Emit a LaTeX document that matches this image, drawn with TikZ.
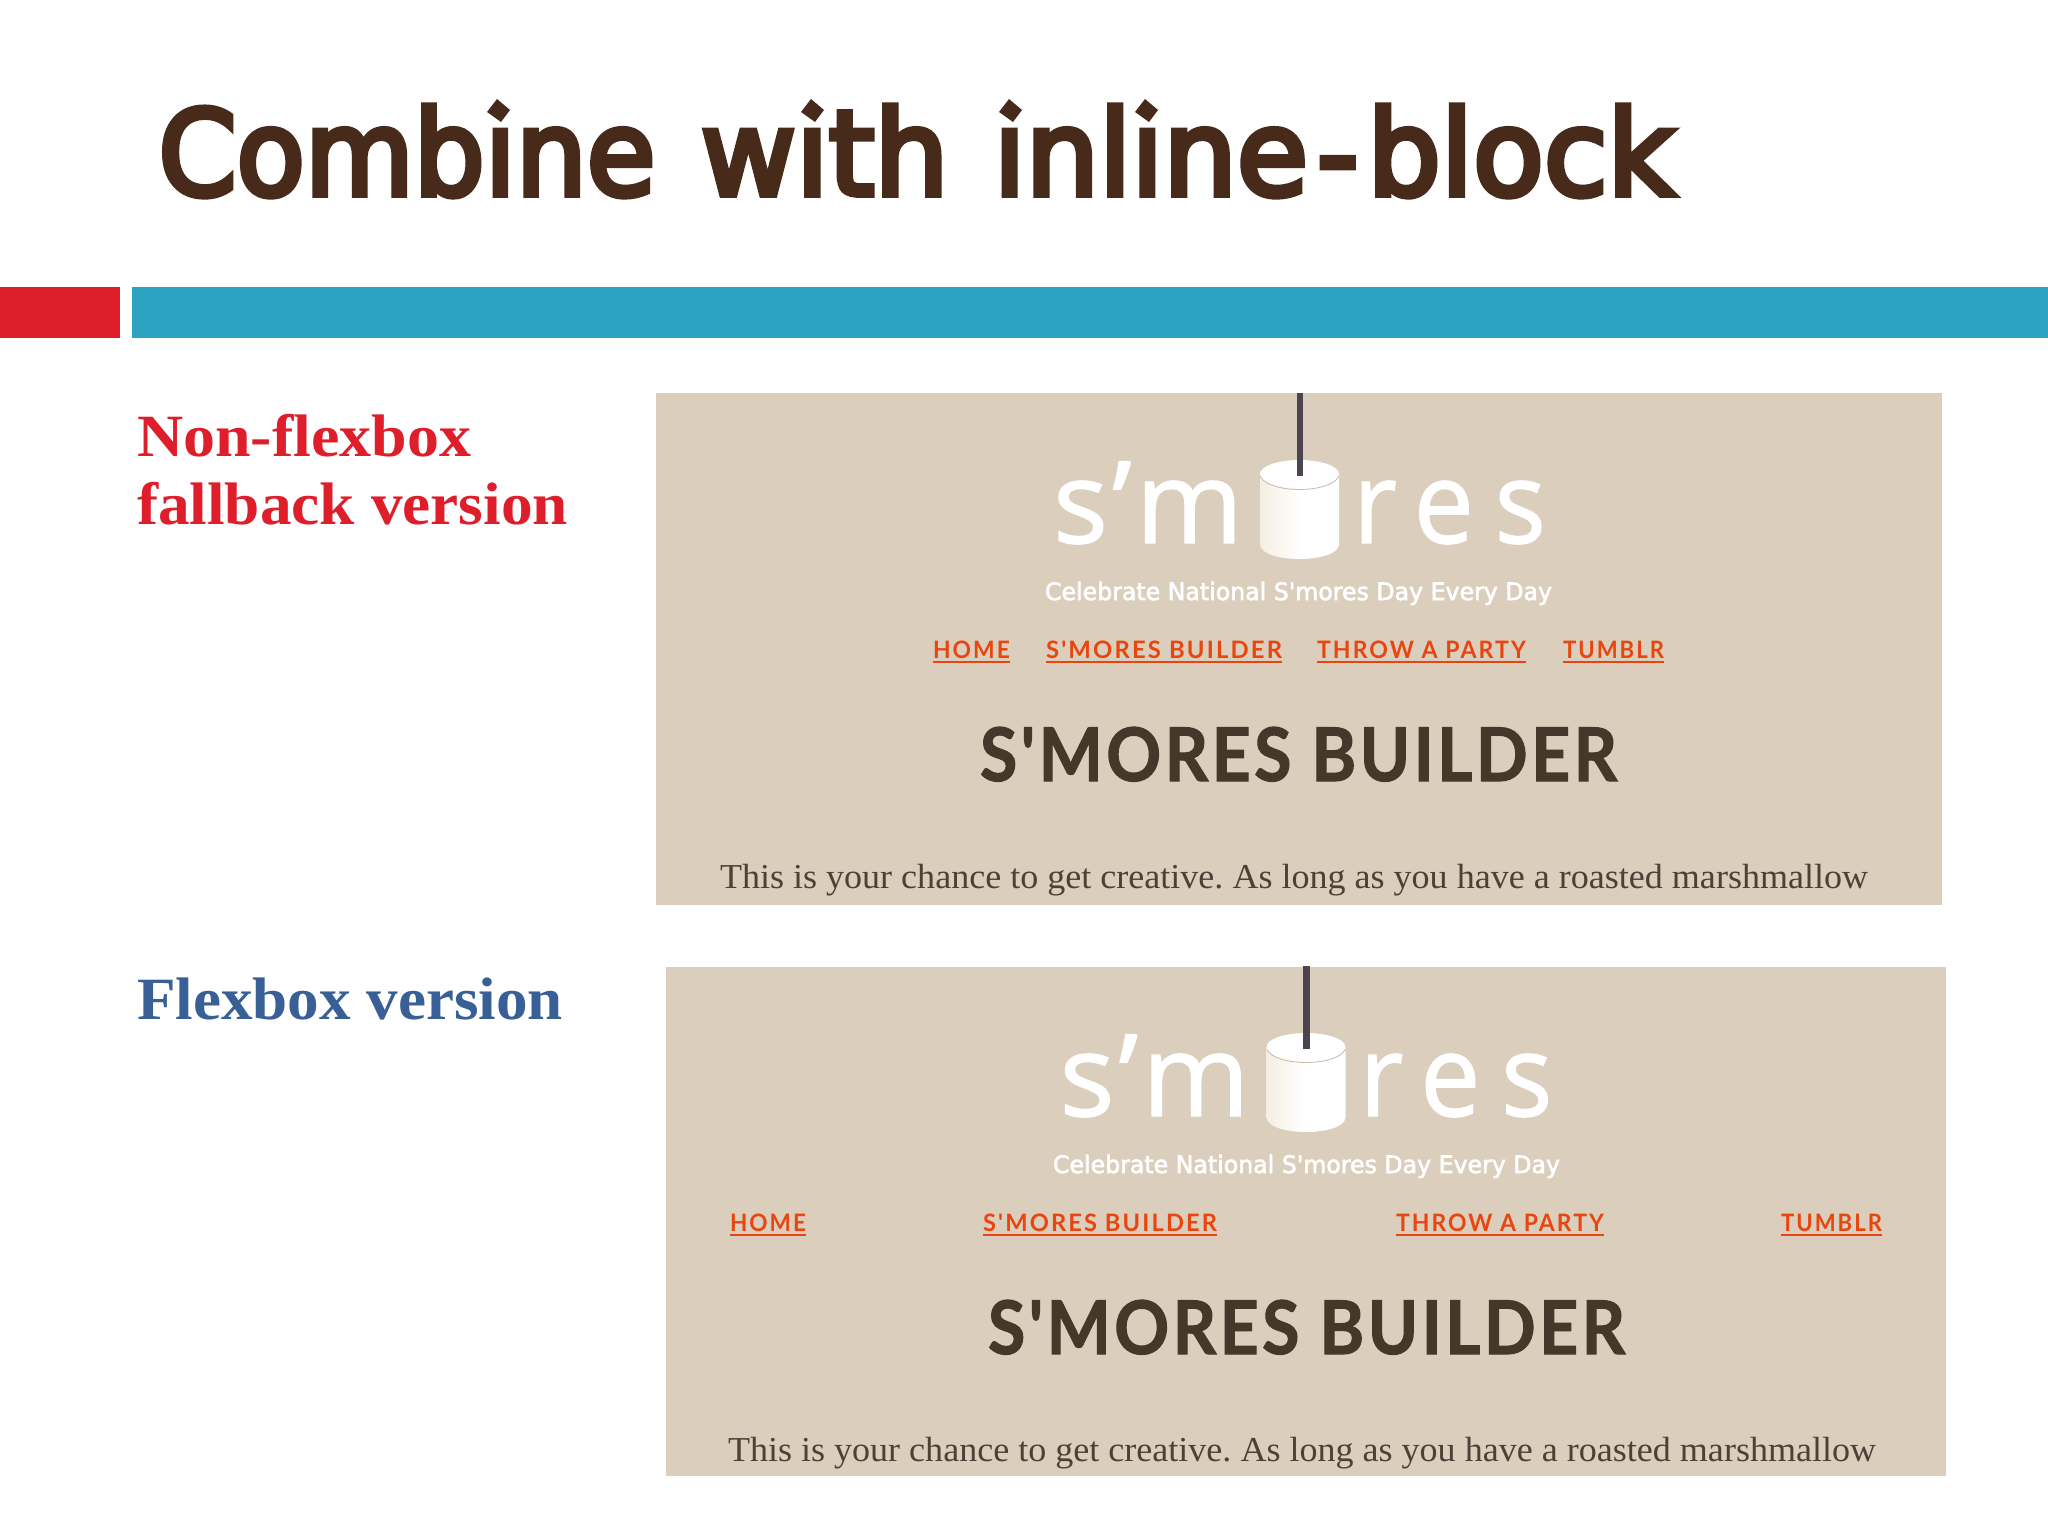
\documentclass[tikz,border=0pt]{standalone}
\usepackage{fontspec}
\usepackage{graphicx}
\setmainfont{Liberation Serif}
\newfontfamily\titlefont[FakeBold=5]{DejaVu Sans}
\newfontfamily\navfont[LetterSpace=9]{Lato}
\newfontfamily\logofont[FakeBold=1.2]{Open Sans}
\newfontfamily\tagfont[FakeBold=2.5]{DejaVu Sans}
\newfontfamily\headfont[LetterSpace=5,FakeBold=1.5]{Lato}
\definecolor{titlebrown}{HTML}{472A1A}
\definecolor{barred}{HTML}{DF1E2B}
\definecolor{barblue}{HTML}{2CA3C1}
\definecolor{panelbg}{HTML}{DBCEBD}
\definecolor{navorange}{HTML}{E9450F}
\definecolor{headbrown}{HTML}{46372A}
\definecolor{bodybrown}{HTML}{4E4036}
\definecolor{ropegrey}{HTML}{4C4550}
\definecolor{lblblue}{HTML}{386096}
\definecolor{mallowshade}{HTML}{F6EEE2}
\newsavebox\fitbox
\newcommand{\fitw}[2]{\sbox\fitbox{#2}\resizebox{#1pt}{\ht\fitbox}{\usebox\fitbox}}
\frenchspacing
\tikzset{
  txt/.style={inner sep=0pt,outer sep=0pt,anchor=base west},
  navline/.style={draw=navorange,line width=2pt},
}
\newcommand{\smorespanel}[8]{%
  \fill[panelbg] (#4,#6) rectangle (#5,#7);
  \begin{scope}[shift={(#8,#3)}]
    \path[left color=mallowshade,right color=white,middle color=white]
      (1260,474) -- (1260,544) .. controls (1260,564) and (1339,564) .. (1339,544) -- (1339,474) -- cycle;
    \fill[white] (1299.5,474) ellipse [x radius=39.5,y radius=14];
    \draw[panelbg!90!black,line width=0.8pt] (1260,476) .. controls (1268,494) and (1331,494) .. (1339,476);
    \fill[ropegrey] (1296.5,393) rectangle (1303,476);
    \node[txt,text=white] (#1logoa) at (1053,543) {\fitw{190}{\logofont\fontsize{114}{114}\selectfont s\kern4pt’\kern4pt m}};
    \node[txt,text=white] (#1logob) at (1353,543) {\fitw{193}{\logofont\fontsize{114}{114}\selectfont r\kern18pt e\kern22pt s}};
  \end{scope}
  \begin{scope}[shift={(#2,#3)}]
    \node[txt,text=white] (#1tag) at (1045,600) {\fitw{507}{\tagfont\fontsize{24}{24}\selectfont Celebrate National S'mores Day Every Day}};
    \node[txt,text=headbrown] (#1head) at (980,781) {\fitw{637}{\headfont\bfseries\fontsize{74}{74}\selectfont S'MORES BUILDER}};
    \node[txt,text=bodybrown] (#1body) at (720,888) {\fitw{1148}{\fontsize{35}{35}\selectfont This is your chance to get creative. As long as you have a roasted marshmallow}};
  \end{scope}
}
\newcommand{\navitem}[5]{%
  \node[txt,text=navorange] (#1) at (#2,#3) {\fitw{#4}{\navfont\bfseries\fontsize{24}{24}\selectfont #5}};
  \draw[navline] (#1.base west) ++(0,3.5) -- ++(#4,0);
}
\begin{document}
\begin{tikzpicture}[x=1pt,y=-1pt]
\useasboundingbox (0,0) rectangle (2048,1536);
\fill[white] (0,0) rectangle (2048,1536);
\node[txt,text=titlebrown] (title) at (158.5,195) {\titlefont\fontsize{118}{118}\selectfont\fitw{497}{Combine}\hspace{45pt}\fitw{248}{with}\hspace{45pt}\fitw{681}{inline\kern9pt-\kern9pt block}};
\foreach \cx in {498,812,1010,1146}{
  \fill[white] (\cx-12,92) rectangle (\cx+12,127);
  \fill[titlebrown] (\cx-1,99) -- (\cx+12,110) -- (\cx+3,122) -- (\cx-11,112) -- cycle;
}
\fill[barred] (0,287) rectangle (120,338);
\fill[barblue] (132,287) rectangle (2048,338);
\node[txt,text=barred] (lab1) at (137,456) {\fitw{334}{\bfseries\fontsize{60}{60}\selectfont Non-flexbox}};
\node[txt,text=barred] (lab2) at (137,524) {\fitw{431}{\bfseries\fontsize{60}{60}\selectfont fallback version}};
\node[txt,text=lblblue] (lab3) at (137,1019.5) {\fitw{426}{\bfseries\fontsize{60}{60}\selectfont Flexbox version}};
\smorespanel{a}{0}{0}{656}{1942}{393}{905}{0}
\navitem{a1}{933}{658.5}{77}{HOME}
\navitem{a2}{1046}{658.5}{236}{S'MORES BUILDER}
\navitem{a3}{1317}{658.5}{209}{THROW A PARTY}
\navitem{a4}{1563}{658.5}{101}{TUMBLR}
\smorespanel{b}{8}{573}{666}{1946}{966.5}{1476}{6.5}
\navitem{b1}{730}{1231.5}{76}{HOME}
\navitem{b2}{983}{1231.5}{234}{S'MORES BUILDER}
\navitem{b3}{1396}{1231.5}{208}{THROW A PARTY}
\navitem{b4}{1781}{1231.5}{101}{TUMBLR}
\end{tikzpicture}
\end{document}
